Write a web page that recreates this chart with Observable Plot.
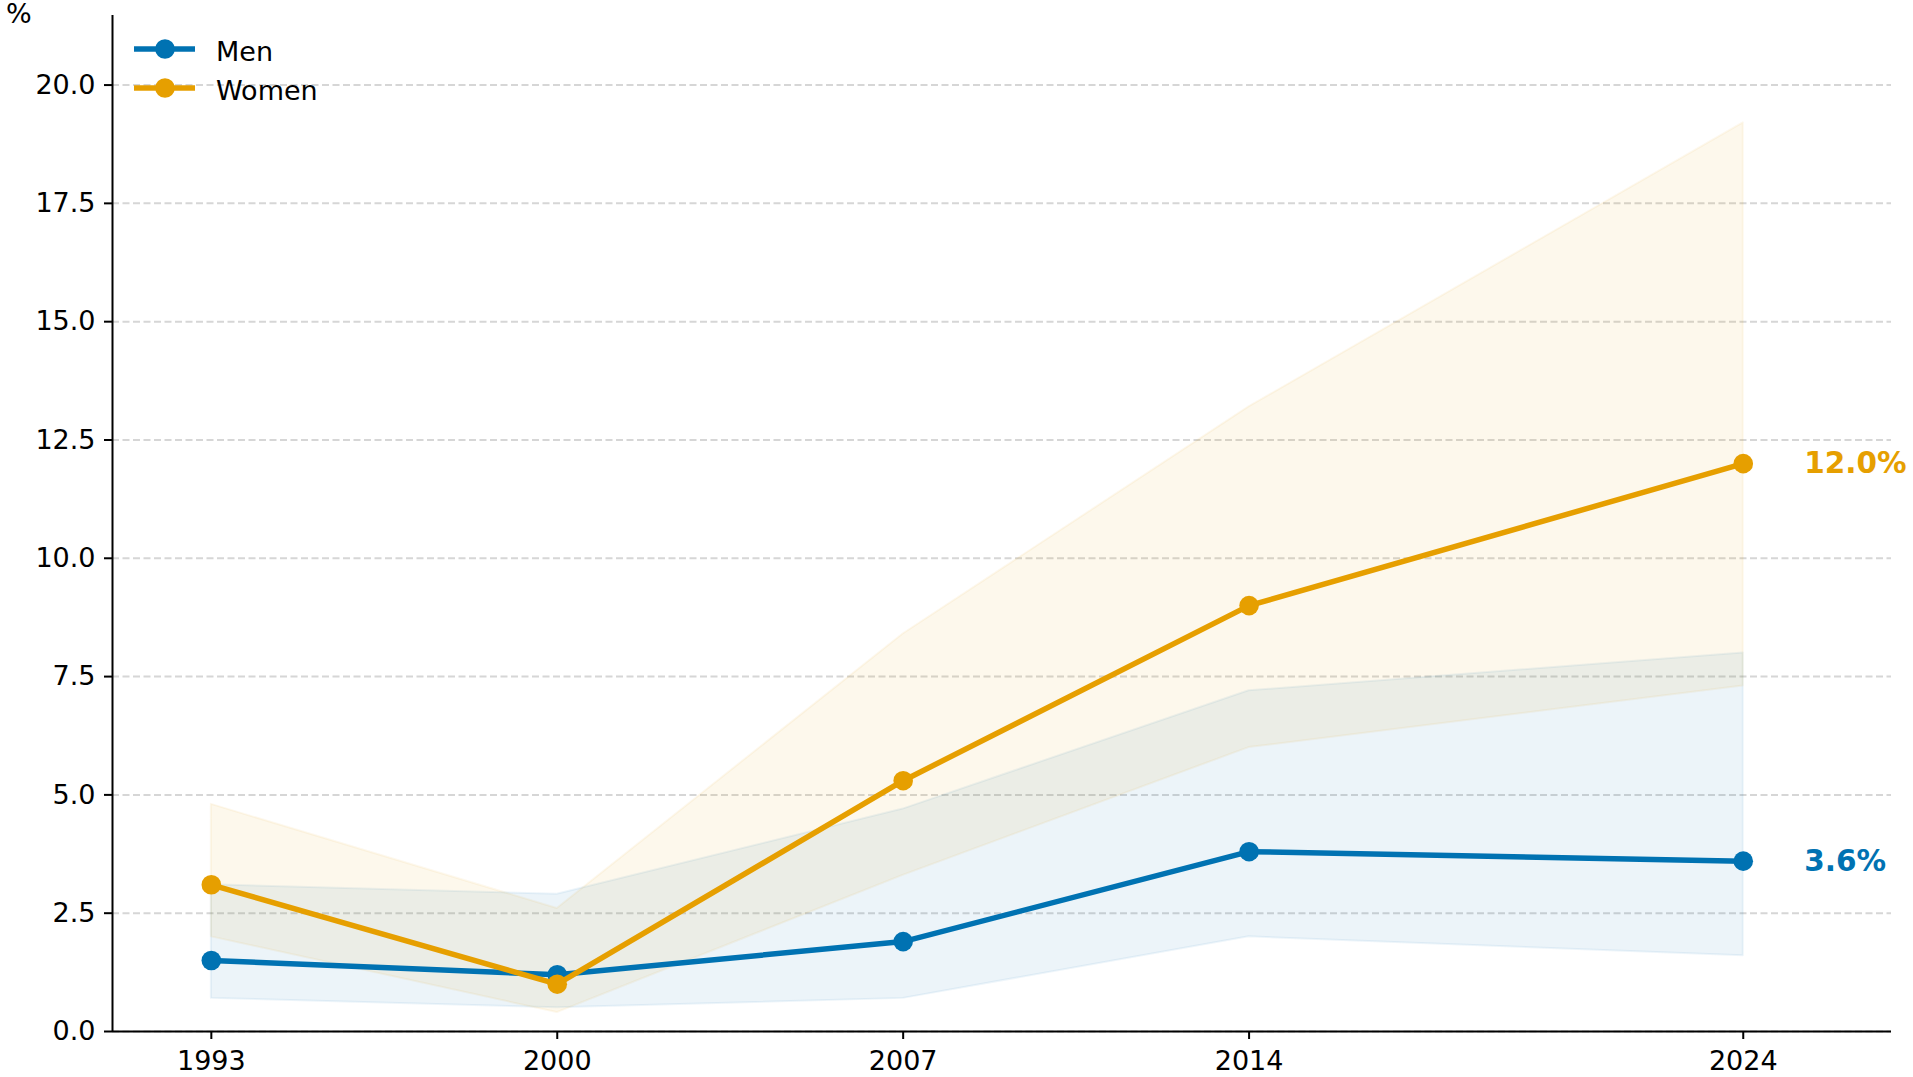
<!DOCTYPE html>
<html>
<head>
<meta charset="utf-8">
<script src="https://cdn.jsdelivr.net/npm/d3@7"></script>
<script src="https://cdn.jsdelivr.net/npm/@observablehq/plot@0.6"></script>
<style>
  html, body { margin: 0; padding: 0; background: #fff; }
  #wrap { position: relative; width: 1913px; height: 1077px; font-family: "DejaVu Sans", sans-serif; }
  #ylab { position: absolute; left: 6px; top: 0px; font-size: 27px; line-height: 27px; color: #000; }
  .leg { position: absolute; left: 132px; display: flex; align-items: center; font-size: 27px; color: #000; }
  .leg svg { margin-right: 20px; }
  .leg span { position: relative; top: 2px; }
</style>
</head>
<body>
<div id="wrap">
  <div id="chart"></div>
  <div id="ylab">%</div>
  <div id="legend"></div>
</div>
<script>
const years = [1993, 2000, 2007, 2014, 2024];
const xTickLabels = ["1993", "2000", "2007", "2014", "2024"];
const menRate = [1.5, 1.2, 1.9, 3.8, 3.6];
const menLow = [0.7, 0.5, 0.7, 2.0, 1.6];
const menHigh = [3.1, 2.9, 4.7, 7.2, 8.0];
const womenRate = [3.1, 1.0, 5.3, 9.0, 12.0];
const womenLow = [2.0, 0.4, 3.3, 6.0, 7.3];
const womenHigh = [4.8, 2.6, 8.4, 13.2, 19.2];
const yTicks = [0, 2.5, 5, 7.5, 10, 12.5, 15, 17.5, 20];
const seriesNames = ["Men", "Women"];
const seriesColors = ["#0072B2", "#E69F00"];

const men = years.map((y, i) => ({year: y, rate: menRate[i], lo: menLow[i], hi: menHigh[i]}));
const women = years.map((y, i) => ({year: y, rate: womenRate[i], lo: womenLow[i], hi: womenHigh[i]}));
const endLabels = [
  {year: years[4], rate: menRate[4], color: seriesColors[0]},
  {year: years[4], rate: womenRate[4], color: seriesColors[1]}
];

const chart = Plot.plot({
  width: 1913,
  height: 1077,
  marginLeft: 112,
  marginRight: 22,
  marginTop: 15,
  marginBottom: 46,
  style: {fontFamily: "DejaVu Sans, sans-serif", fontSize: "27px", color: "#000", background: "#fff", overflow: "visible"},
  x: {domain: [1991, 2027]},
  y: {domain: [0, 21.47]},
  marks: [
    Plot.ruleY(yTicks, {stroke: "#d6d6d6", strokeWidth: 2, strokeDasharray: "7,3.5"}),
    Plot.areaY(men, {x: "year", y1: "lo", y2: "hi", fill: seriesColors[0], fillOpacity: 0.075, stroke: seriesColors[0], strokeOpacity: 0.07, strokeWidth: 2}),
    Plot.areaY(women, {x: "year", y1: "lo", y2: "hi", fill: seriesColors[1], fillOpacity: 0.075, stroke: seriesColors[1], strokeOpacity: 0.07, strokeWidth: 2}),
    Plot.lineY(men, {x: "year", y: "rate", stroke: seriesColors[0], strokeWidth: 5.5}),
    Plot.dot(men, {x: "year", y: "rate", r: 9.8, fill: seriesColors[0]}),
    Plot.lineY(women, {x: "year", y: "rate", stroke: seriesColors[1], strokeWidth: 5.5}),
    Plot.dot(women, {x: "year", y: "rate", r: 9.8, fill: seriesColors[1]}),
    Plot.text(endLabels, {x: "year", y: "rate", text: d => d.rate.toFixed(1) + "%", fill: d => d.color, dx: 61, textAnchor: "start", fontWeight: "bold", fontSize: 29.5}),
    Plot.axisX({ticks: years, tickFormat: (d) => xTickLabels[years.indexOf(d)], tickSize: 8, tickPadding: 11, strokeWidth: 2, label: null}),
    Plot.axisY({ticks: yTicks, tickFormat: d => d.toFixed(1), tickSize: 8, tickPadding: 9, strokeWidth: 2, label: null}),
    Plot.ruleY([0], {stroke: "#000", strokeWidth: 2}),
    Plot.ruleX([1991], {stroke: "#000", strokeWidth: 2})
  ]
});
document.getElementById("chart").appendChild(chart);

const legend = document.getElementById("legend");
const rowCenters = [49, 88];
seriesNames.forEach((name, i) => {
  const row = document.createElement("div");
  row.className = "leg";
  row.style.top = (rowCenters[i] - 18) + "px";
  row.style.height = "36px";
  row.innerHTML = `<svg width="64" height="24"><line x1="2" y1="12" x2="63" y2="12" stroke="${seriesColors[i]}" stroke-width="5.5"/><circle cx="33" cy="12" r="9.8" fill="${seriesColors[i]}"/></svg><span>${name}</span>`;
  legend.appendChild(row);
});
</script>
</body>
</html>
